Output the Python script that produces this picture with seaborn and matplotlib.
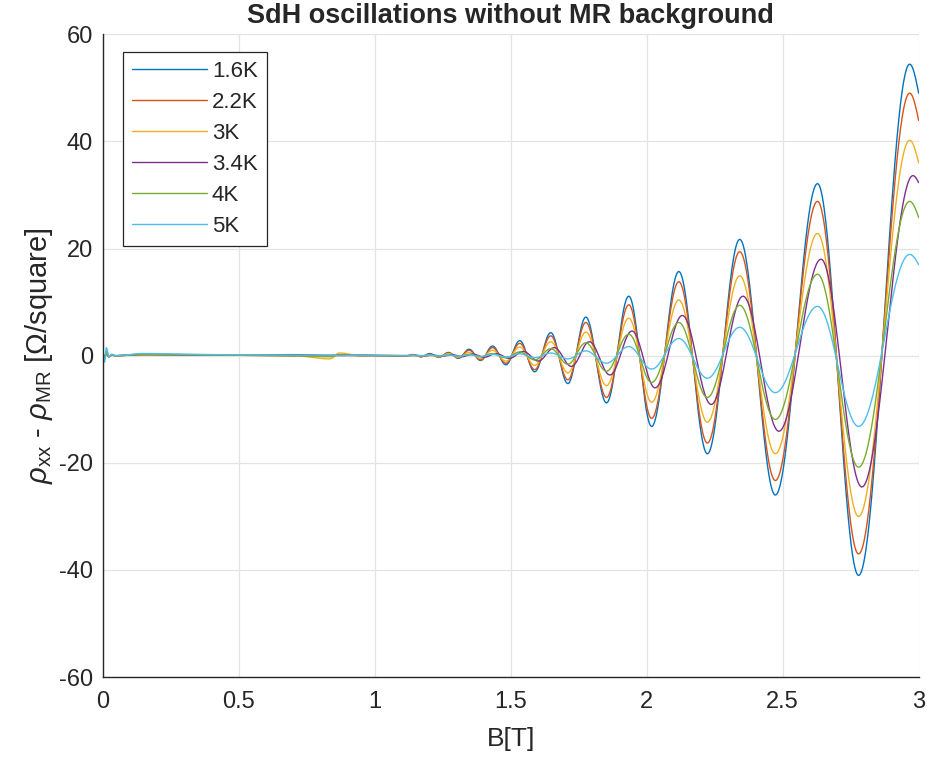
import numpy as np
import pandas as pd
import matplotlib
matplotlib.use("Agg")
import matplotlib.pyplot as plt
import seaborn as sns

# ---------------- data ----------------
temps = ["1.6K", "2.2K", "3K", "3.4K", "4K", "5K"]
colors = ["#0072BD", "#D95319", "#EDB120", "#7E2F8E", "#77AC30", "#4DBEEE"]

# fields (T) of the read points: low-field points, then successive extrema
B_low = [0.0, 0.006, 0.013, 0.022, 0.032, 0.045, 0.15, 0.40, 0.70, 0.835, 0.87, 0.95, 1.05]
B_hi = [1.111, 1.140, 1.170, 1.202, 1.235, 1.271, 1.307, 1.347, 1.389, 1.433,
        1.482, 1.533, 1.588, 1.647, 1.710, 1.776, 1.852, 1.934, 2.018, 2.118,
        2.223, 2.342, 2.473, 2.628, 2.779, 2.967, 3.000]
# the 3.4K trace is slightly phase shifted
B_hi_34 = [1.124, 1.153, 1.183, 1.215, 1.248, 1.284, 1.320, 1.360, 1.402, 1.446,
           1.495, 1.546, 1.601, 1.660, 1.723, 1.789, 1.865, 1.946, 2.031, 2.131,
           2.237, 2.354, 2.486, 2.641, 2.791, 2.979, 3.000]

v_16 = [0.3, -0.5, 0.6, -0.2, 0.1, 0.0, 0.3, 0.1, 0.2, 0.0, 0.1, 0.1, 0.0,
        -0.1, 0.2, -0.2, 0.4, -0.3, 0.6, -0.5, 1.2, -0.9, 1.8, -1.7, 2.8, -3.0,
        4.3, -5.2, 7.2, -8.8, 11.1, -13.2, 15.7, -18.3, 21.7, -26.0, 32.1, -41.0, 54.4, 49.0]
v_22 = [0.5, -0.3, 0.4, -0.1, 0.1, 0.0, 0.2, 0.1, 0.1, 0.1, 0.0, 0.1, 0.0,
        -0.1, 0.2, -0.2, 0.3, -0.3, 0.5, -0.4, 1.0, -0.8, 1.5, -1.4, 2.3, -2.6,
        3.7, -4.5, 6.2, -7.8, 9.5, -11.7, 13.8, -16.3, 19.4, -23.3, 28.8, -37.0, 49.0, 43.9]
v_30 = [0.8, -0.8, 0.9, -0.3, 0.2, 0.0, 0.2, 0.1, 0.0, -0.6, 0.5, 0.0, 0.1,
        -0.05, 0.1, -0.1, 0.2, -0.2, 0.4, -0.3, 0.6, -0.5, 1.0, -1.0, 1.6, -1.8,
        2.6, -3.2, 4.4, -5.6, 7.0, -8.7, 10.4, -12.4, 14.9, -18.3, 22.8, -30.0, 40.2, 36.0]
v_34 = [0.4, -0.4, 0.5, -0.2, 0.1, 0.0, 0.2, 0.1, 0.0, 0.0, 0.1, 0.0, 0.0,
        0.0, 0.05, -0.05, 0.1, -0.1, 0.2, -0.2, 0.3, -0.3, 0.4, -0.5, 0.8, -1.0,
        1.5, -2.0, 2.6, -3.6, 4.6, -6.0, 7.5, -9.1, 11.1, -14.1, 18.0, -24.5, 33.6, 32.3]
v_40 = [0.5, -0.6, 0.7, -0.2, 0.1, 0.0, 0.2, 0.1, 0.0, -0.2, 0.1, 0.0, 0.0,
        0.0, 0.05, -0.05, 0.1, -0.1, 0.15, -0.15, 0.25, -0.2, 0.4, -0.4, 0.7, -0.8,
        1.3, -1.6, 2.4, -2.9, 4.0, -5.0, 6.2, -7.8, 9.4, -11.9, 15.2, -20.8, 28.8, 25.8]
v_50 = [0.0, -1.2, 1.5, -0.2, 0.3, 0.0, 0.4, 0.2, 0.1, 0.1, 0.0, 0.1, 0.0,
        0.0, 0.0, 0.0, 0.05, -0.05, 0.1, -0.1, 0.15, -0.15, 0.25, -0.25, 0.35, -0.4,
        0.5, -0.6, 0.9, -1.4, 1.7, -2.5, 3.2, -4.2, 5.3, -6.9, 9.2, -13.2, 18.9, 17.0]

x_ticks = [0, 0.5, 1, 1.5, 2, 2.5, 3]
x_labels = ["0", "0.5", "1", "1.5", "2", "2.5", "3"]
y_ticks = [-60, -40, -20, 0, 20, 40, 60]
y_labels = ["-60", "-40", "-20", "0", "20", "40", "60"]

series_B = [B_low + B_hi, B_low + B_hi, B_low + B_hi, B_low + B_hi_34, B_low + B_hi, B_low + B_hi]
series_v = [v_16, v_22, v_30, v_34, v_40, v_50]


def trace(Bk, Vk, x):
    """Smooth (half-cosine) joining of the read extrema."""
    Bk = np.asarray(Bk, float)
    Vk = np.asarray(Vk, float)
    i = np.clip(np.searchsorted(Bk, x, side="right") - 1, 0, len(Bk) - 2)
    t = (x - Bk[i]) / (Bk[i + 1] - Bk[i])
    w = (1 - np.cos(np.pi * t)) / 2
    last = i == len(Bk) - 2
    w[last] = 1 - np.cos(np.pi / 2 * t[last])
    return Vk[i] + (Vk[i + 1] - Vk[i]) * w


x = np.linspace(0, 3, 4000)
frames = []
for name, Bk, Vk in zip(temps, series_B, series_v):
    frames.append(pd.DataFrame({"B": x, "v": trace(Bk, Vk, x), "T": name}))
df = pd.concat(frames, ignore_index=True)

# ---------------- style ----------------
sns.set_style("white")
plt.rcParams["font.family"] = ["Liberation Sans", "DejaVu Sans"]
plt.rcParams["mathtext.fontset"] = "custom"
plt.rcParams["mathtext.rm"] = "Liberation Sans"
plt.rcParams["mathtext.it"] = "Liberation Sans:italic"

dark = "#262626"
fig = plt.figure(figsize=(9.27, 7.6), dpi=100)
ax = fig.add_axes([0.111, 0.109, 0.880, 0.846])

sns.lineplot(data=df, x="B", y="v", hue="T", hue_order=temps, palette=colors,
             estimator=None, sort=False, linewidth=1.0, ax=ax)

ax.set_xlim(0, 3)
ax.set_ylim(-60, 60)
ax.set_xticks(x_ticks)
ax.set_xticklabels(x_labels)
ax.set_yticks(y_ticks)
ax.set_yticklabels(y_labels)
ax.grid(True, color="#e3e3e3", linewidth=0.9)
ax.set_axisbelow(True)
for s in ["top", "right"]:
    ax.spines[s].set_visible(False)
for s in ["left", "bottom"]:
    ax.spines[s].set_color(dark)
    ax.spines[s].set_linewidth(1.0)
ax.tick_params(direction="in", length=6, width=1.0, color=dark, labelcolor=dark,
               labelsize=17)
ax.tick_params(axis="x", pad=10)
ax.tick_params(axis="y", pad=7)

ax.set_xlabel("B[T]", fontsize=19, color=dark, labelpad=10)
ax.set_ylabel(r"$\rho_{\rm xx}$ - $\rho_{\rm MR}$ [$\Omega$/square]", fontsize=21,
              color=dark, labelpad=3)
ax.set_title("SdH oscillations without MR background", fontsize=19.5,
             fontweight="bold", pad=8)

leg = ax.legend(loc="upper left", bbox_to_anchor=(0.0245, 0.972), fontsize=16,
                frameon=True, fancybox=False, edgecolor=dark, framealpha=1,
                handlelength=3.4, handletextpad=0.2, labelspacing=0.45,
                borderpad=0.4, borderaxespad=0)
leg.get_frame().set_linewidth(0.9)
for ln in leg.get_lines():
    ln.set_linewidth(1.0)

fig.savefig("out.png", dpi=100)
